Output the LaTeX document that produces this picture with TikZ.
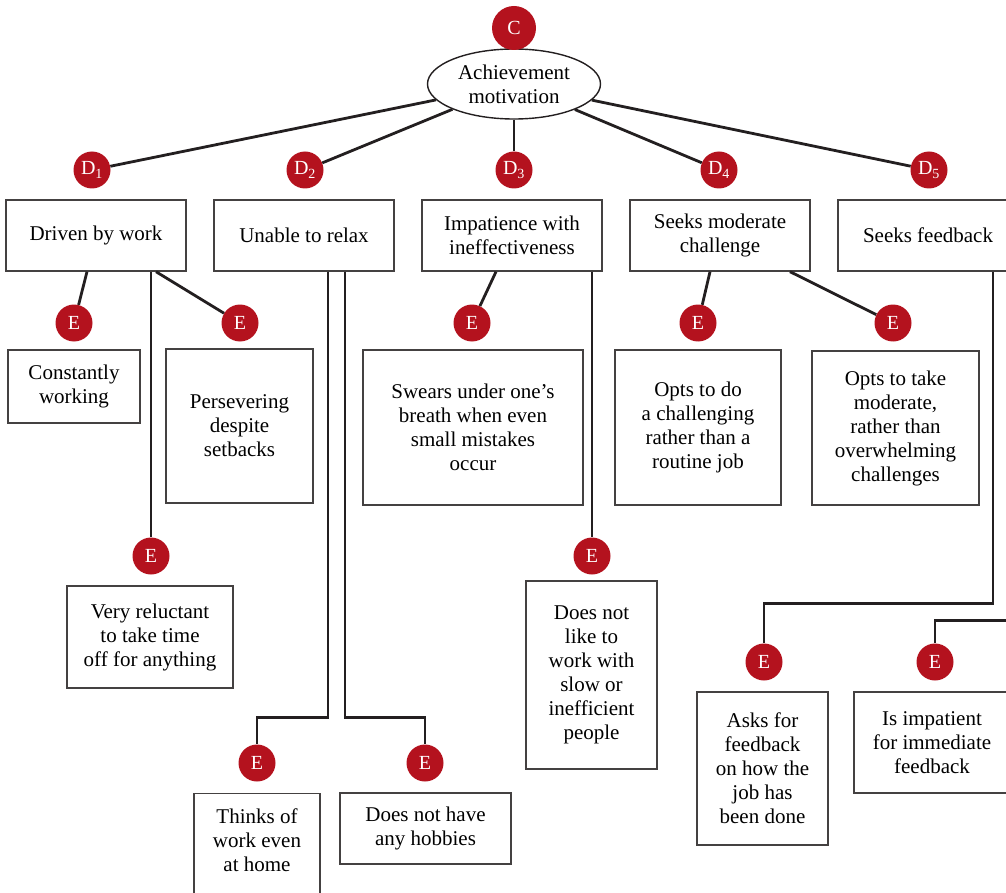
\documentclass[tikz,border=0pt]{standalone}
\usepackage{fontspec}
\setmainfont{Liberation Serif}
\usetikzlibrary{positioning, shapes, calc}
\definecolor{darkred}{RGB}{180,18,30}
\definecolor{inkline}{RGB}{35,31,32}
\tikzset{
	attrbox/.style={rectangle, draw=inkline!85, line width=1.4pt, align=center, inner sep=0pt},
	dimcirc/.style={circle, fill=darkred, text=white, minimum size=37pt, inner sep=0pt, font=\fontsize{20}{22}\selectfont},
	conn/.style={draw=inkline, line width=2.8pt}
}
\begin{document}
\begin{tikzpicture}[x=1pt, y=-1pt, font=\fontsize{21}{24}\selectfont]
		
		\useasboundingbox (0,0) rectangle (1006,893);
		\clip (0,0) rectangle (1006,893);
		
		%Construct
		\node [ellipse, draw=inkline, line width=1.4pt, minimum width=173pt, minimum height=70pt, inner sep=0pt, align=center] 
		(ach) at (514,84) {Achievement\\motivation};
		\node [dimcirc, minimum size=44pt] (c) at (514,28) {C};
		
		%Dimensions
		\node [dimcirc] (d1) at (92,170) {D\textsubscript{1}};
		\node [dimcirc] (d2) at (305,170) {D\textsubscript{2}};
		\node [dimcirc] (d3) at (514,170) {D\textsubscript{3}};
		\node [dimcirc] (d4) at (719,170) {D\textsubscript{4}};
		\node [dimcirc] (d5) at (929,170) {D\textsubscript{5}};
		
		\node [attrbox, minimum width=180pt, minimum height=71pt] (driven) at (96,235.5) {Driven by work};
		\node [attrbox, minimum width=180pt, minimum height=71pt] (relax) at (304,235.5) {Unable to relax};
		\node [attrbox, minimum width=180pt, minimum height=71pt] (impat) at (512,235.5) {Impatience with\\ineffectiveness};
		\node [attrbox, minimum width=180pt, minimum height=71pt] (moder) at (720,235.5) {Seeks moderate\\challenge};
		\node [attrbox, minimum width=180pt, minimum height=71pt] (fback) at (928,235.5) {Seeks feedback};
		
		%Elements
		\node [dimcirc] (e11) at (74,323) {E};
		\node [dimcirc] (e12) at (240,323) {E};
		\node [dimcirc] (e13) at (151,556) {E};
		\node [dimcirc] (e21) at (257,763) {E};
		\node [dimcirc] (e22) at (425,763) {E};
		\node [dimcirc] (e31) at (472,323) {E};
		\node [dimcirc] (e32) at (592,556) {E};
		\node [dimcirc] (e41) at (698,323) {E};
		\node [dimcirc] (e42) at (893,323) {E};
		\node [dimcirc] (e51) at (764,662) {E};
		\node [dimcirc] (e52) at (935,662) {E};
		
		\node [attrbox, minimum width=132pt, minimum height=73pt] (working) at (74,386.5) {Constantly\\working};
		\node [attrbox, minimum width=147pt, minimum height=154pt] (persev) at (239.5,426) {Persevering\\despite\\setbacks};
		\node [attrbox, minimum width=166pt, minimum height=102pt] (reluct) at (150,637) {Very reluctant\\to take time\\off for anything};
		\node [attrbox, anchor=north, minimum width=126pt, inner ysep=15pt, text depth=110pt] (thinks) at (257,793) {Thinks of\\work even\\at home};
		\node [attrbox, minimum width=171pt, minimum height=71pt] (hobby) at (425.5,828.5) {Does not have\\any hobbies};
		\node [attrbox, minimum width=220pt, minimum height=155pt] (swears) at (473,427.5) {Swears under one’s\\breath when even\\small mistakes\\occur};
		\node [attrbox, minimum width=131pt, minimum height=188pt] (slow) at (591.5,675) {Does not\\like to\\work with\\slow or\\inefficient\\people};
		\node [attrbox, minimum width=166pt, minimum height=155pt] (routine) at (698,427.5) {Opts to do\\a challenging\\rather than a\\routine job};
		\node [attrbox, minimum width=167pt, minimum height=154pt] (overwh) at (895.5,428) {Opts to take\\moderate,\\rather than\\overwhelming\\challenges};
		\node [attrbox, minimum width=131pt, minimum height=153pt] (askfb) at (762.5,768.5) {Asks for\\feedback\\on how the\\job has\\been done};
		\node [attrbox, minimum width=156pt, minimum height=101pt] (immed) at (932,742.5) {Is impatient\\for immediate\\feedback};
		
		%Links
		\path [conn] (ach) -- (d1);
		\path [conn] (ach) -- (d2);
		\path [conn] (ach) -- (d3);
		\path [conn] (ach) -- (d4);
		\path [conn] (ach) -- (d5);
		
		\path [conn] ([xshift=-9pt]driven.south) -- (e11);
		\path [conn] ([xshift=60pt]driven.south) -- (e12);
		\path [conn] (e13 |- driven.south) -- (e13);
		\path [conn] ([xshift=24pt]relax.south) -- ++(0,446) -| (e21);
		\path [conn] ([xshift=41pt]relax.south) -- ++(0,446) -| (e22);
		\path [conn] ([xshift=-16pt]impat.south) -- (e31);
		\path [conn] (e32 |- impat.south) -- (e32);
		\path [conn] ([xshift=-10pt]moder.south) -- (e41);
		\path [conn] ([xshift=70pt]moder.south) -- (e42);
		\path [conn] ([xshift=65pt]fback.south) -- ++(0,332) -| (e51);
		\path [conn] ([xshift=82pt]fback.south) -- ++(0,349) -| (e52);
		
\end{tikzpicture}
\end{document}
